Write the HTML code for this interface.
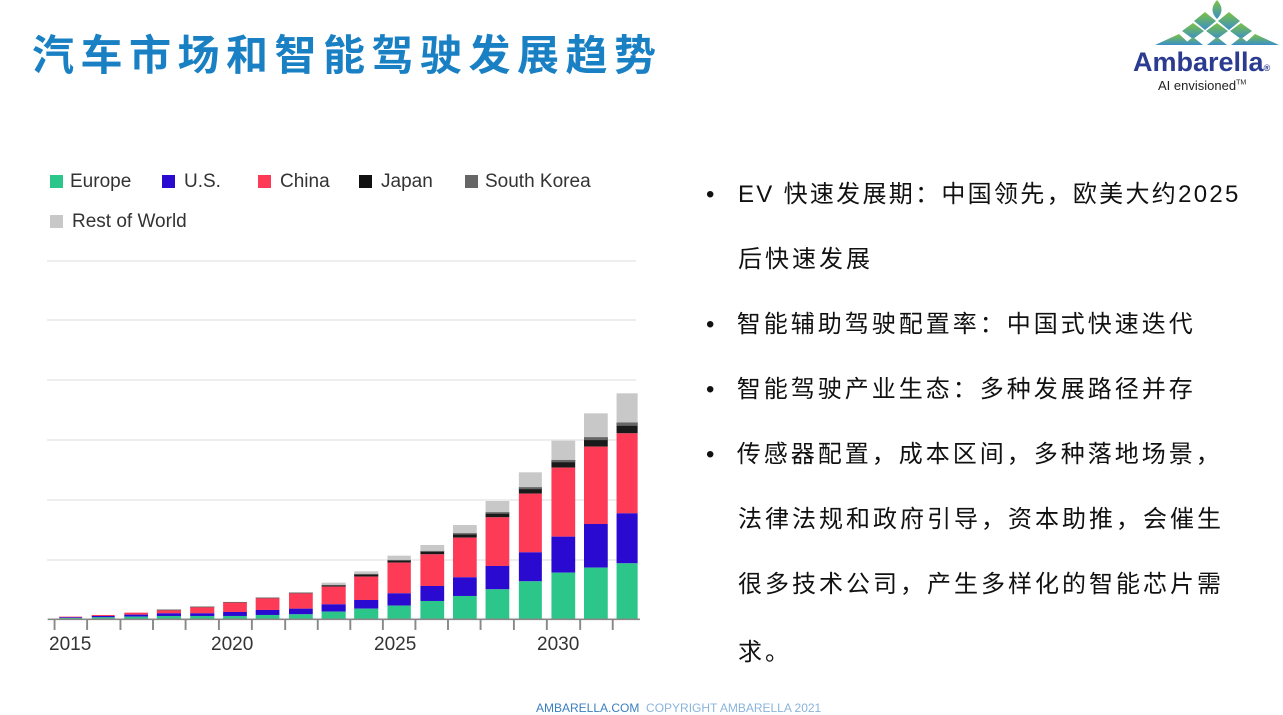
<!DOCTYPE html>
<html><head><meta charset="utf-8"><style>
body{margin:0;width:1283px;height:711px;background:#fff;position:relative;overflow:hidden;font-family:"Liberation Sans","Noto Sans CJK SC",sans-serif}
.t{position:absolute;left:32px;top:22px;font-size:42px;font-weight:bold;color:#1a80c4;letter-spacing:6.5px;font-family:"Liberation Sans","Noto Sans CJK SC",sans-serif;white-space:nowrap}
.lg{position:absolute;font-size:19px;color:#333;white-space:nowrap}
.sq{position:absolute;width:13px;height:13px}
.b{position:absolute;left:706px;font-size:24px;letter-spacing:3px;color:#111;white-space:nowrap;font-family:"Liberation Sans","Noto Sans CJK SC",sans-serif}
.b2{left:738px}
</style></head><body>
<div class="t">汽车市场和智能驾驶发展趋势</div>

<svg style="position:absolute;left:1153px;top:0" width="130" height="48">
<defs><linearGradient id="g" x1="0" y1="0" x2="0" y2="1"><stop offset="0" stop-color="#7cc242"/><stop offset="1" stop-color="#3a8fc8"/></linearGradient></defs>
<g fill="url(#g)">
<path d="M64 0 Q73 10 64 19 Q55 10 64 0Z"/>
<path d="M52 12 l11 9 l-11 9 l-11 -9z M76 12 l11 9 l-11 9 l-11 -9z"/>
<path d="M40 23 l11 8 l-11 8 l-11 -8z M64 23 l11 8 l-11 8 l-11 -8z M88 23 l11 8 l-11 8 l-11 -8z"/>
<path d="M2 45 l24 -11 l12 11z M30 45 l10 -8 l10 8z M54 45 l10 -8 l10 8z M78 45 l10 -8 l10 8z M90 45 l12 -11 l24 11z"/>
</g></svg>
<div style="position:absolute;left:1133px;top:47px;font-size:27px;font-weight:bold;color:#2b3b8f">Ambarella<span style="font-size:9px">®</span></div>
<div style="position:absolute;left:1158px;top:78px;font-size:13px;color:#222">AI envisioned<sup style="font-size:7px">TM</sup></div>

<div class="sq" style="left:50px;top:175px;background:#2dc68a"></div><div class="lg" style="left:70px;top:171px">Europe</div>
<div class="sq" style="left:162px;top:175px;background:#2a0ad0"></div><div class="lg" style="left:184px;top:171px">U.S.</div>
<div class="sq" style="left:258px;top:175px;background:#fd3b57"></div><div class="lg" style="left:280px;top:171px">China</div>
<div class="sq" style="left:359px;top:175px;background:#111"></div><div class="lg" style="left:381px;top:171px">Japan</div>
<div class="sq" style="left:465px;top:175px;background:#666"></div><div class="lg" style="left:485px;top:171px">South Korea</div>
<div class="sq" style="left:50px;top:215px;background:#c8c8c8"></div><div class="lg" style="left:72px;top:211px">Rest of World</div>

<svg style="position:absolute;left:0;top:0" width="700" height="711">
<g stroke="#e8e8e8" stroke-width="1.5">
<line x1="47" x2="636" y1="261" y2="261"/><line x1="47" x2="636" y1="320" y2="320"/><line x1="47" x2="636" y1="380" y2="380"/><line x1="47" x2="636" y1="440" y2="440"/><line x1="47" x2="636" y1="500" y2="500"/><line x1="47" x2="636" y1="560" y2="560"/>
</g>
<g transform="translate(40,380) scale(0.3831,0.3333)" id="bars"></g>
<g font-size="19" fill="#333" font-family="Liberation Sans, sans-serif">
<text x="49" y="650">2015</text><text x="211" y="650">2020</text><text x="374" y="650">2025</text><text x="537" y="650">2030</text>
</g>
</svg>
<script>
var d=[[50,110,710,710,710,712,714],[135,195,705,705,705,708,712],[220,282,698,698,698,704,710],[305,368,689,689,690,700,708],[392,455,680,680,681,700,708],[478,540,666,666,667,696,708],[563,625,653,653,654,690,705],[650,712,638,638,640,686,703],[735,798,608,615,620,673,695],[820,883,574,582,590,660,686],[907,968,527,540,548,640,677],[993,1055,495,513,523,618,663],[1078,1140,435,460,473,592,648],[1163,1225,363,397,412,558,628],[1250,1310,277,322,341,517,604],[1335,1397,182,240,263,470,578],[1420,1482,100,172,200,432,563],[1505,1560,40,128,160,400,550]];
var s='',c=['#c8c8c8','#1a1a1a','#fd3b57','#2a0ad0','#2dc68a'];
d.forEach(function(b){var ys=[b[2],b[3],b[4],b[5],b[6],718];for(var i=0;i<5;i++){if(ys[i+1]>ys[i])s+='<rect x="'+b[0]+'" width="'+(b[1]-b[0])+'" y="'+ys[i]+'" height="'+(ys[i+1]-ys[i])+'" fill="'+c[i]+'"/>';}
if(b[3]<b[4])s+='<rect x="'+b[0]+'" width="'+(b[1]-b[0])+'" y="'+b[3]+'" height="'+Math.max(2,(b[4]-b[3])*0.3)+'" fill="#666"/>';});
s+='<line x1="20" x2="1566" y1="718" y2="718" stroke="#888" stroke-width="5"/>';
[38,123,210,295,380,467,553,640,725,810,895,980,1065,1150,1237,1323,1410,1495].forEach(function(x){s+='<line x1="'+x+'" x2="'+x+'" y1="718" y2="750" stroke="#888" stroke-width="5"/>';});
document.getElementById('bars').innerHTML=s;
</script>

<div class="b" style="top:174px">•&nbsp;&nbsp;智</div>
<div class="b b2" style="top:174px;letter-spacing:2.3px;background:#fff">EV 快速发展期：中国领先，欧美大约2025</div>
<div class="b b2" style="top:239px">后快速发展</div>
<div class="b" style="top:304px">•&nbsp;&nbsp;智能辅助驾驶配置率：中国式快速迭代</div>
<div class="b" style="top:369px">•&nbsp;&nbsp;智能驾驶产业生态：多种发展路径并存</div>
<div class="b" style="top:434px">•&nbsp;&nbsp;传感器配置，成本区间，多种落地场景，</div>
<div class="b b2" style="top:499px">法律法规和政府引导，资本助推，会催生</div>
<div class="b b2" style="top:564px">很多技术公司，产生多样化的智能芯片需</div>
<div class="b b2" style="top:632px">求。</div>

<div style="position:absolute;left:536px;top:701px;font-size:12px;color:#3a7fc0;white-space:nowrap">AMBARELLA.COM&nbsp; <span style="color:#8ab4dc">COPYRIGHT AMBARELLA 2021</span></div>
</body></html>
